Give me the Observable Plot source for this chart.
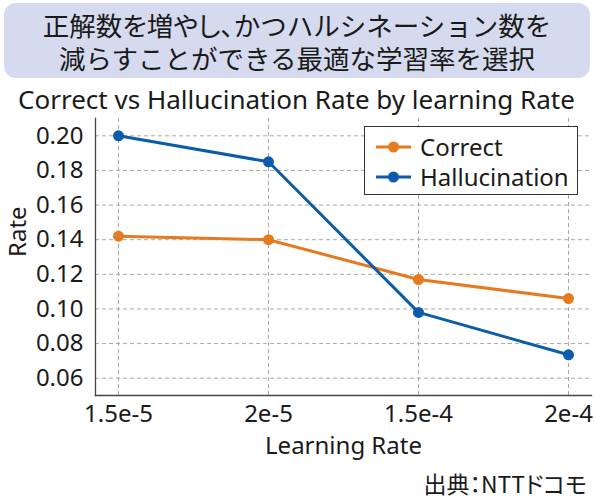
<!DOCTYPE html>
<html>
<head>
<meta charset="utf-8">
<script src="https://cdn.jsdelivr.net/npm/d3@7"></script>
<script src="https://cdn.jsdelivr.net/npm/@observablehq/plot@0.6"></script>
<style>
  html, body { margin: 0; padding: 0; background: #fff; }
  #wrap { position: relative; width: 595px; height: 500px; overflow: hidden; font-family: "Noto Sans", sans-serif; color: #1a1a1a; }
  #headline { position: absolute; left: 4px; top: 3px; width: 586px; height: 75px; border-radius: 12px; background: #d5daee; box-sizing: border-box; padding-top: 5px; text-align: center; font-family: "Noto Sans CJK JP", sans-serif; font-size: 26.5px; line-height: 33px; color: #1a1a1a; }
  #title { position: absolute; left: 0; top: 84px; width: 593px; text-align: center; font-size: 26px; line-height: 30px; white-space: nowrap; }
  #chart { position: absolute; left: 0; top: 80px; }
  #legend { position: absolute; left: 364px; top: 126px; width: 214px; height: 69px; box-sizing: border-box; border: 1px solid #333; background: #fff; padding-top: 5px; }
  .row { display: flex; align-items: center; height: 30px; font-size: 24px; line-height: 30px; }
  .row svg { margin-left: 11px; margin-right: 9px; }
  #caption { position: absolute; right: 8px; top: 470px; font-family: "Noto Sans CJK JP", sans-serif; font-size: 23px; line-height: 26px; font-feature-settings: "palt"; color: #1a1a1a; }
</style>
</head>
<body>
<div id="wrap">
  <div id="headline"><span style="font-feature-settings:'palt'">正解数を増やし、</span>かつハルシネーション数を<br>減らすことができる最適な学習率を選択</div>
  <div id="title"></div>
  <div id="chart"></div>
  <div id="legend"></div>
  <div id="caption">出典：NTTドコモ</div>
</div>
<script>
const chartTitle = "Correct vs Hallucination Rate by learning Rate";
const learningRates = ["1.5e-5", "2e-5", "1.5e-4", "2e-4"];
const correct = [0.142, 0.140, 0.117, 0.106];
const hallucination = [0.200, 0.185, 0.098, 0.0735];
const seriesNames = ["Correct", "Hallucination"];
const seriesColors = ["#e67a1e", "#0b5cab"];
const yTicks = [0.06, 0.08, 0.10, 0.12, 0.14, 0.16, 0.18, 0.20];
const yDomain = [0.05, 0.21];
const xLabel = "Learning Rate";
const yLabel = "Rate";

document.getElementById("title").textContent = chartTitle;

const rows = [];
learningRates.forEach((lr, i) => {
  rows.push({lr, series: seriesNames[0], value: correct[i]});
  rows.push({lr, series: seriesNames[1], value: hallucination[i]});
});

const colorScale = {domain: seriesNames, range: seriesColors};

const plot = Plot.plot({
  width: 595,
  height: 390,
  marginLeft: 95,
  marginRight: 4,
  marginTop: 38,
  marginBottom: 75,
  style: {fontFamily: "Noto Sans, sans-serif", fontSize: "24px", color: "#1a1a1a", background: "transparent"},
  x: {type: "point", domain: learningRates, padding: 0.15, label: null},
  y: {domain: yDomain, label: null},
  color: colorScale,
  marks: [
    Plot.gridX(learningRates, {stroke: "#a8a8a8", strokeOpacity: 1, strokeDasharray: "4,3", strokeWidth: 1}),
    Plot.gridY(yTicks, {stroke: "#a8a8a8", strokeOpacity: 1, strokeDasharray: "4,3", strokeWidth: 1}),
    Plot.frame({anchor: "left", stroke: "#444", strokeWidth: 1.3}),
    Plot.frame({anchor: "bottom", stroke: "#444", strokeWidth: 1.3}),
    Plot.axisX(learningRates, {tickSize: 0, tickPadding: 9, label: null, fontSize: 24}),
    Plot.axisY(yTicks, {tickSize: 0, tickPadding: 12, label: null, tickFormat: d3.format(".2f"), fontSize: 24}),
    Plot.line(rows, {x: "lr", y: "value", z: "series", stroke: "series", strokeWidth: 3}),
    Plot.dot(rows, {x: "lr", y: "value", fill: "series", r: 5.5, stroke: "none"}),
    Plot.text([xLabel], {frameAnchor: "bottom", dy: 58, fontSize: 24, fill: "#1a1a1a"}),
    Plot.text([yLabel], {frameAnchor: "left", dx: -77, rotate: -90, fontSize: 24, fill: "#1a1a1a"})
  ]
});
document.getElementById("chart").appendChild(plot);

const legend = document.getElementById("legend");
seriesNames.forEach((name, i) => {
  const row = document.createElement("div");
  row.className = "row";
  const c = seriesColors[i];
  row.innerHTML = `<svg width="35" height="14"><line x1="0" y1="7" x2="35" y2="7" stroke="${c}" stroke-width="3"/><circle cx="17.5" cy="7" r="5.5" fill="${c}"/></svg><span></span>`;
  row.querySelector("span").textContent = name;
  legend.appendChild(row);
});
</script>
</body>
</html>
